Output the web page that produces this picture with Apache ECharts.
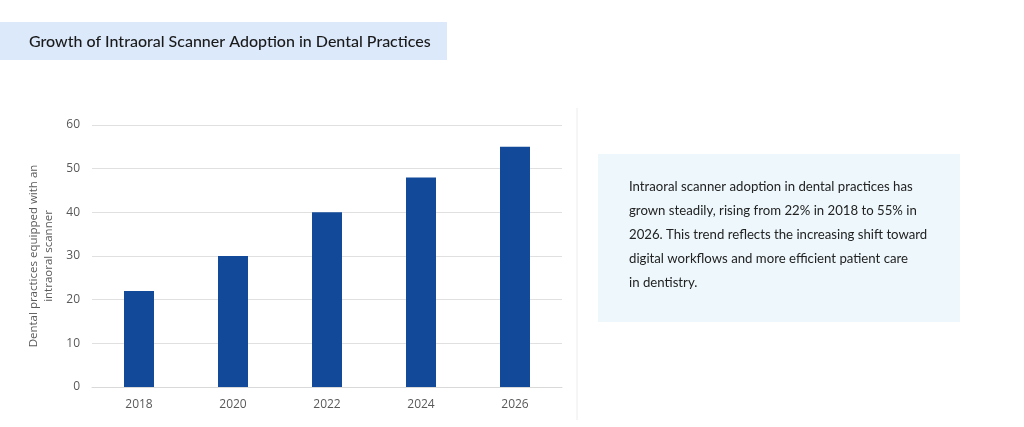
<!DOCTYPE html>
<html>
<head>
<meta charset="utf-8">
<script src="https://cdn.jsdelivr.net/npm/echarts@6/dist/echarts.min.js"></script>
<style>
  html, body { margin: 0; padding: 0; background: #fff; }
  #chart { width: 1024px; height: 427px; }
</style>
</head>
<body>
<div id="chart"></div>
<script>
var years = ['2018', '2020', '2022', '2024', '2026'];
var adoption = [22, 30, 40, 48, 55];

var titleText = 'Growth of Intraoral Scanner Adoption in Dental Practices';
var noteLines = [
    'Intraoral scanner adoption in dental practices has',
    'grown steadily, rising from 22% in 2018 to 55% in',
    '2026. This trend reflects the increasing shift toward',
    'digital workflows and more efficient patient care',
    'in dentistry.'
];

var myChart = echarts.init(document.getElementById('chart'));

var option = {
    backgroundColor: '#ffffff',
    textStyle: { fontFamily: 'Lato' },
    grid: {
        left: 92,
        right: 462,
        top: 125,
        bottom: 40
    },
    xAxis: {
        type: 'category',
        data: years,
        axisLine: { lineStyle: { color: '#d9d9d9' } },
        axisTick: { show: false },
        axisLabel: { color: '#595959', fontSize: 12, margin: 12, fontFamily: 'Open Sans' }
    },
    yAxis: {
        type: 'value',
        min: 0,
        max: 60,
        interval: 10,
        name: 'Dental practices equipped with an\nintraoral scanner',
        nameLocation: 'middle',
        nameGap: 36,
        nameTextStyle: { color: '#595959', fontSize: 11.5, lineHeight: 15, fontFamily: 'Open Sans' },
        axisLine: { show: false },
        axisTick: { show: false },
        axisLabel: { color: '#595959', fontSize: 12, margin: 12, fontFamily: 'Open Sans' },
        splitLine: { lineStyle: { color: '#e0e0e0' } }
    },
    series: [{
        type: 'bar',
        data: adoption,
        barWidth: 30,
        itemStyle: { color: '#124a99' }
    }],
    graphic: [
        {
            type: 'rect',
            shape: { x: 0, y: 22, width: 447, height: 38 },
            style: { fill: '#dbe9fb' }
        },
        {
            type: 'text',
            x: 29,
            y: 42,
            style: {
                text: titleText,
                fill: '#1a1a1a',
                font: '500 16px Lato',
                textVerticalAlign: 'middle'
            }
        },
        {
            type: 'line',
            shape: { x1: 577, y1: 108, x2: 577, y2: 420 },
            style: { stroke: '#ececec', lineWidth: 1 }
        },
        {
            type: 'rect',
            shape: { x: 598, y: 154, width: 362, height: 168 },
            style: { fill: '#eef8fc' }
        },
        {
            type: 'text',
            x: 629,
            y: 175,
            style: {
                text: noteLines.join('\n'),
                fill: '#222222',
                font: '13.2px Lato',
                lineHeight: 24,
                textVerticalAlign: 'top'
            }
        }
    ]
};

myChart.setOption(option);
</script>
</body>
</html>
